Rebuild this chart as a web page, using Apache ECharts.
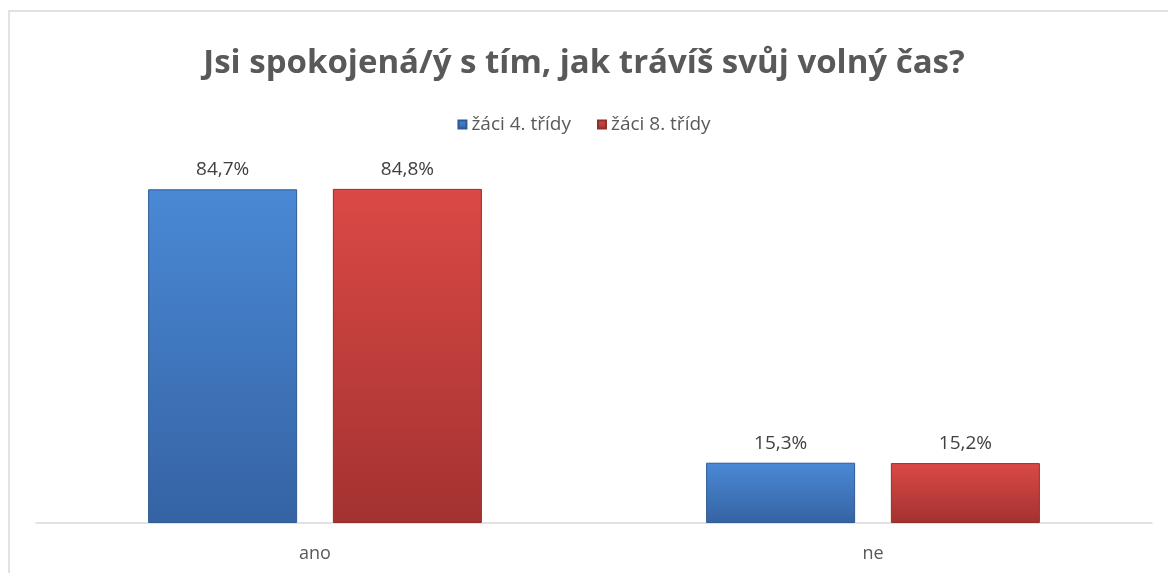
<!DOCTYPE html>
<html>
<head>
<meta charset="utf-8">
<script src="https://cdn.jsdelivr.net/npm/echarts@6/dist/echarts.min.js"></script>
<style>
  html, body { margin: 0; padding: 0; background: #fff; }
  #chart { width: 1168px; height: 573px; }
</style>
</head>
<body>
<div id="chart"></div>
<script>
const categories = ["ano", "ne"];
const seriesNames = ["žáci 4. třídy", "žáci 8. třídy"];
const grade4 = [84.7, 15.3];
const grade8 = [84.8, 15.2];

const chart = echarts.init(document.getElementById("chart"));

function grad(top, bottom) {
  return new echarts.graphic.LinearGradient(0, 0, 0, 1, [
    { offset: 0, color: top },
    { offset: 1, color: bottom },
  ]);
}

const labelStyle = {
  show: true,
  position: "top",
  distance: 10,
  color: "#404040",
  fontSize: 19,
  fontFamily: "Open Sans",
  formatter: (p) => p.value.toFixed(1).replace(".", ",") + "%",
};

chart.setOption({
  animation: false,
  title: {
    text: "Jsi spokojená/ý s tím, jak trávíš svůj volný čas?",
    left: "center",
    top: 42,
    textStyle: {
      color: "#595959",
      fontSize: 33,
      fontWeight: "bold",
      fontFamily: "Open Sans",
    },
  },
  legend: {
    top: 110,
    left: "center",
    itemWidth: 8,
    itemHeight: 8,
    itemGap: 26,
    icon: "rect",
    textStyle: { color: "#595959", fontSize: 19, fontFamily: "Open Sans" },
    data: seriesNames,
  },
  graphic: [
    {
      type: "rect",
      shape: { x: 9, y: 11, width: 1200, height: 600 },
      style: { fill: "none", stroke: "#d9d9d9", lineWidth: 1.5 },
      silent: true,
    },
  ],
  grid: { left: 36, right: 16, top: 129, bottom: 50 },
  xAxis: {
    type: "category",
    data: categories,
    axisTick: { show: false },
    axisLine: { lineStyle: { color: "#d9d9d9", width: 1.5 } },
    axisLabel: {
      color: "#595959",
      fontSize: 18,
      fontFamily: "Open Sans",
      margin: 22,
    },
  },
  yAxis: {
    type: "value",
    min: 0,
    max: 100,
    show: false,
    splitLine: { show: false },
  },
  series: [
    {
      name: seriesNames[0],
      type: "bar",
      data: grade4,
      barWidth: 149,
      barGap: "24%",
      itemStyle: {
        color: grad("#4a89d6", "#3563a3"),
        borderColor: "#2f5a94",
        borderWidth: 1,
      },
      label: labelStyle,
    },
    {
      name: seriesNames[1],
      type: "bar",
      data: grade8,
      barWidth: 149,
      itemStyle: {
        color: grad("#db4946", "#a33230"),
        borderColor: "#90302d",
        borderWidth: 1,
      },
      label: labelStyle,
    },
  ],
});
</script>
</body>
</html>
